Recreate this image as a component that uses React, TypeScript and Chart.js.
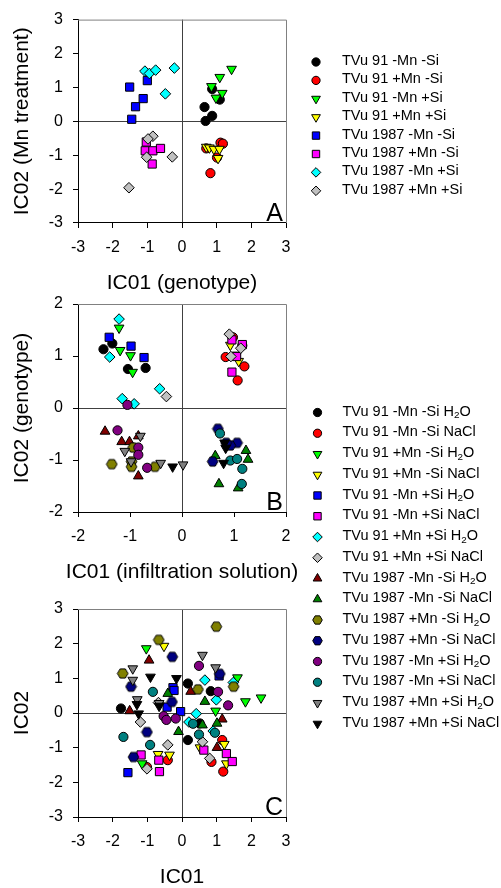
import React, { useEffect, useRef } from 'react';
import { Chart, registerables } from 'chart.js';
Chart.register(...registerables);

const FONT = "'Liberation Sans', Arial, Helvetica, sans-serif";

// ---------- Panel A data (IC01 genotype vs IC02 Mn treatment) ----------
const seriesNamesA = [
  'TVu 91 -Mn -Si', 'TVu 91 +Mn -Si', 'TVu 91 -Mn +Si', 'TVu 91 +Mn +Si',
  'TVu 1987 -Mn -Si', 'TVu 1987 +Mn -Si', 'TVu 1987 -Mn +Si', 'TVu 1987 +Mn +Si',
];
const a91MnMinusSiMinus = [[0.87, 0.95], [1.09, 0.64], [0.65, 0.42], [0.87, 0.16], [0.68, 0.01]];
const a91MnPlusSiMinus = [[1.11, -0.63], [1.18, -0.66], [0.70, -0.80], [1.01, -1.07], [0.82, -1.53]];
const a91MnMinusSiPlus = [[1.43, 1.54], [1.09, 1.30], [0.85, 1.03], [1.16, 0.83], [0.98, 0.69]];
const a91MnPlusSiPlus = [[0.70, -0.76], [0.79, -0.78], [0.92, -0.82], [1.08, -0.82], [1.04, -1.09]];
const a1987MnMinusSiMinus = [[-1.51, 1.01], [-1.00, 1.20], [-1.12, 0.67], [-1.34, 0.43], [-1.45, 0.06]];
const a1987MnPlusSiMinus = [[-1.03, -0.61], [-1.06, -0.87], [-0.84, -0.87], [-0.62, -0.80], [-0.86, -1.26]];
const a1987MnMinusSiPlus = [[-1.07, 1.48], [-0.94, 1.41], [-0.76, 1.51], [-0.22, 1.57], [-0.48, 0.81]];
const a1987MnPlusSiPlus = [[-0.84, -0.44], [-0.98, -0.52], [-1.02, -1.06], [-0.28, -1.05], [-1.53, -1.96]];
const seriesDataA = [
  a91MnMinusSiMinus, a91MnPlusSiMinus, a91MnMinusSiPlus, a91MnPlusSiPlus,
  a1987MnMinusSiMinus, a1987MnPlusSiMinus, a1987MnMinusSiPlus, a1987MnPlusSiPlus,
];

// ---------- Panel B / C series names ----------
const seriesNamesBC = [
  'TVu 91 -Mn -Si H₂O', 'TVu 91 -Mn -Si NaCl', 'TVu 91 +Mn -Si H₂O', 'TVu 91 +Mn -Si NaCl',
  'TVu 91 -Mn +Si H₂O', 'TVu 91 -Mn +Si NaCl', 'TVu 91 +Mn +Si H₂O', 'TVu 91 +Mn +Si NaCl',
  'TVu 1987 -Mn -Si H₂O', 'TVu 1987 -Mn -Si NaCl', 'TVu 1987 +Mn -Si H₂O', 'TVu 1987 +Mn -Si NaCl',
  'TVu 1987 -Mn +Si H₂O', 'TVu 1987 -Mn +Si NaCl', 'TVu 1987 +Mn +Si H₂O', 'TVu 1987 +Mn +Si NaCl',
];

// ---------- Panel B data (IC01 infiltration solution vs IC02 genotype) ----------
const b91_1 = [[-1.51, 1.13], [-1.34, 1.24], [-1.04, 0.75], [-0.70, 0.77]];
const b91_2 = [[0.98, 1.36], [0.84, 0.98], [1.20, 0.80], [1.07, 0.53], [1.16, 1.20]];
const b91_3 = [[-1.21, 1.54], [-1.19, 1.11], [-0.99, 1.01], [-0.95, 0.69]];
const b91_4 = [[0.93, 1.21], [1.09, 0.90], [1.05, 1.02]];
const b91_5 = [[-1.40, 1.36], [-0.98, 1.19], [-0.73, 0.97]];
const b91_6 = [[0.96, 1.31], [1.16, 1.22], [1.05, 0.99], [0.96, 0.69]];
const b91_7 = [[-1.21, 1.71], [-1.39, 0.98], [-0.43, 0.37], [-1.15, 0.18], [-0.92, 0.08]];
const b91_8 = [[0.91, 1.42], [1.13, 1.15], [0.94, 0.99], [-0.30, 0.22]];
const b1987_1 = [[-1.48, -0.45], [-1.16, -0.65], [-1.01, -0.65], [-0.84, -0.54], [-0.84, -1.31]];
const b1987_2 = [[1.23, -0.82], [1.27, -0.99], [0.71, -1.46], [1.08, -1.54], [0.64, -0.92]];
const b1987_3 = [[-0.94, -0.76], [-1.35, -1.08], [-0.97, -1.03], [-0.97, -1.13], [-0.52, -1.13]];
const b1987_4 = [[0.69, -0.40], [1.06, -0.67], [0.59, -1.03], [0.93, -0.72], [0.85, -0.67]];
const b1987_5 = [[-1.24, -0.43], [-0.84, -0.76], [-0.84, -0.90], [-0.67, -1.15], [-1.05, 0.06]];
const b1987_6 = [[0.73, -0.49], [0.93, -1.01], [1.06, -0.98], [1.16, -1.17], [1.15, -1.46]];
const b1987_7 = [[-0.80, -0.54], [-1.10, -0.83], [-0.98, -1.03], [-0.41, -1.06], [0.02, -1.09]];
const b1987_8 = [[-0.18, -1.13], [0.82, -0.67], [0.84, -0.77], [0.80, -1.06]];
const seriesDataB = [b91_1, b91_2, b91_3, b91_4, b91_5, b91_6, b91_7, b91_8,
  b1987_1, b1987_2, b1987_3, b1987_4, b1987_5, b1987_6, b1987_7, b1987_8];

// ---------- Panel C data (IC01 vs IC02) ----------
const c91_1 = [[-1.76, 0.13], [0.17, 0.85], [0.83, 0.63], [0.51, -0.30], [0.17, -0.78]];
const c91_2 = [[1.16, -0.78], [0.85, -1.41], [1.19, -1.69], [-0.41, -1.36], [-1.01, -1.56]];
const c91_3 = [[-1.03, 1.86], [1.60, 1.02], [2.28, 0.44], [1.83, 0.33], [0.97, 0.06], [-1.15, -1.46]];
const c91_4 = [[-0.52, 1.93], [1.22, -0.90], [1.28, -1.46], [-0.69, -1.19], [-0.36, -1.21], [0.52, -1.00]];
const c91_5 = [[-1.56, -1.72], [-0.26, 0.73], [-0.23, 0.65], [-0.43, 0.17], [-0.04, 0.04], [1.07, 1.07]];
const c91_6 = [[-1.18, -1.21], [-0.67, -1.36], [-0.65, -1.69], [0.63, -1.07], [1.28, -1.17], [1.45, -1.40]];
const c91_7 = [[0.66, 0.95], [0.99, 0.38], [0.41, -0.02], [0.20, -0.26], [1.48, 0.88], [0.90, -0.52]];
const c91_8 = [[-1.20, -0.26], [-0.68, 0.30], [-0.41, -0.92], [0.59, -0.83], [0.80, -1.31], [-1.01, -1.61]];
const c1987_1 = [[-0.95, 1.52], [-1.51, 0.06], [0.25, 0.62], [1.16, -0.18], [1.01, -1.00]];
const c1987_2 = [[-0.41, 0.56], [0.66, 0.33], [0.59, -0.35], [1.01, -0.30], [-0.10, -0.54]];
const c1987_3 = [[0.99, 2.49], [-0.67, 2.11], [-1.71, 1.14], [0.46, 0.68], [1.49, 0.76]];
const c1987_4 = [[-0.28, 1.62], [-1.47, 0.76], [1.09, 1.13], [-0.29, 0.32], [-1.01, -0.55], [-1.40, -1.27]];
const c1987_5 = [[0.49, 1.36], [1.04, 0.61], [1.33, 0.22], [-0.53, -0.09], [-0.45, -0.20], [-0.18, -0.16]];
const c1987_6 = [[-0.84, 0.61], [-1.69, -0.69], [-0.92, -0.92], [0.32, -0.31], [0.49, -0.62], [0.95, -0.57]];
const c1987_7 = [[0.59, 1.67], [0.97, 1.31], [-1.42, 1.28], [-1.42, 0.95], [-1.29, 0.39], [-0.66, 0.28]];
const c1987_8 = [[-0.91, 1.04], [-0.16, 1.00], [-1.30, 0.25], [-1.25, -0.02], [-0.66, 0.20]];
const seriesDataC = [c91_1, c91_2, c91_3, c91_4, c91_5, c91_6, c91_7, c91_8,
  c1987_1, c1987_2, c1987_3, c1987_4, c1987_5, c1987_6, c1987_7, c1987_8];

// ---------- Symbols ----------
const symbolsA = [
  ['circle', '#000000'], ['circle', '#ff0000'], ['triDown', '#00ff00'], ['triDown', '#ffff00'],
  ['square', '#0000ff'], ['square', '#ff00ff'], ['diamond', '#00ffff'], ['diamond', '#c0c0c0'],
];
const symbolsBC = [
  ['circle', '#000000'], ['circle', '#ff0000'], ['triDown', '#00ff00'], ['triDown', '#ffff00'],
  ['square', '#0000ff'], ['square', '#ff00ff'], ['diamond', '#00ffff'], ['diamond', '#c0c0c0'],
  ['triUp', '#800000'], ['triUp', '#008000'], ['hex', '#808000'], ['hex', '#000080'],
  ['circle', '#800080'], ['circle', '#008080'], ['triDown', '#808080'], ['triDown', '#000000'],
];
const xTicks3 = [-3, -2, -1, 0, 1, 2, 3];
const xTicks2 = [-2, -1, 0, 1, 2];

const RADII: Record<string, number> = { circle: 4.6, square: 5.8, diamond: 5.3, triUp: 5.6, triDown: 5.6, hex: 5.3 };

function drawShape(ctx: CanvasRenderingContext2D, shape: string, x: number, y: number, r: number, fill: string) {
  ctx.save();
  ctx.beginPath();
  if (shape === 'circle') {
    ctx.arc(x, y, r, 0, Math.PI * 2);
  } else if (shape === 'square') {
    const h = r * Math.SQRT1_2;
    ctx.rect(x - h, y - h, 2 * h, 2 * h);
  } else if (shape === 'diamond') {
    ctx.moveTo(x, y - r); ctx.lineTo(x + r, y); ctx.lineTo(x, y + r); ctx.lineTo(x - r, y); ctx.closePath();
  } else if (shape === 'triUp' || shape === 'triDown') {
    let rad = shape === 'triUp' ? 0 : Math.PI;
    for (let i = 0; i < 3; i++) {
      const px = x + Math.sin(rad) * r, py = y - Math.cos(rad) * r;
      if (i === 0) ctx.moveTo(px, py); else ctx.lineTo(px, py);
      rad += (2 * Math.PI) / 3;
    }
    ctx.closePath();
  } else if (shape === 'hex') {
    for (let i = 0; i < 6; i++) {
      const a = (i * Math.PI) / 3;
      const px = x + Math.cos(a) * r, py = y + Math.sin(a) * r;
      if (i === 0) ctx.moveTo(px, py); else ctx.lineTo(px, py);
    }
    ctx.closePath();
  }
  ctx.fillStyle = fill;
  ctx.fill();
  ctx.lineWidth = 1;
  ctx.strokeStyle = '#000';
  ctx.stroke();
  ctx.restore();
}

function hexImage(fill: string) {
  const c = document.createElement('canvas');
  c.width = 13; c.height = 13;
  const ctx = c.getContext('2d')!;
  drawShape(ctx, 'hex', 6.5, 6.5, RADII.hex, fill);
  return c;
}

function buildDatasets(names: string[], data: number[][][], symbols: string[][]) {
  const n = names.length;
  return names.map((label, i) => {
    const [shape, color] = symbols[i];
    let pointStyle: any = 'circle';
    let rotation = 0;
    if (shape === 'square') pointStyle = 'rect';
    else if (shape === 'diamond') pointStyle = 'rectRot';
    else if (shape === 'triUp') pointStyle = 'triangle';
    else if (shape === 'triDown') { pointStyle = 'triangle'; rotation = 180; }
    else if (shape === 'hex') pointStyle = hexImage(color);
    return {
      label,
      data: data[i].map(([x, y]) => ({ x, y })),
      pointStyle,
      pointRotation: rotation,
      pointRadius: RADII[shape],
      pointBackgroundColor: color,
      pointBorderColor: '#000',
      pointBorderWidth: 1,
      showLine: false,
      order: n - i,
    };
  });
}

function drawLabel(ctx: CanvasRenderingContext2D, text: string, x: number, y: number, size: number) {
  ctx.font = `${size}px ${FONT}`;
  ctx.fillStyle = '#000';
  ctx.textAlign = 'left';
  ctx.textBaseline = 'middle';
  const idx = text.indexOf('₂');
  if (idx < 0) { ctx.fillText(text, x, y); return; }
  const before = text.slice(0, idx), after = text.slice(idx + 1);
  ctx.fillText(before, x, y);
  let cx = x + ctx.measureText(before).width;
  ctx.font = `${size * 0.68}px ${FONT}`;
  ctx.fillText('2', cx, y + 4);
  cx += ctx.measureText('2').width;
  ctx.font = `${size}px ${FONT}`;
  ctx.fillText(after, cx, y);
}

type OverlayOpts = {
  letter: string;
  names: string[];
  symbols: string[][];
  markerX: number;
  textX: number;
  y0: number;
  dy: number;
  extraXTitle?: string;
  extraXTitleY?: number;
};

function overlayPlugin(o: OverlayOpts) {
  return {
    id: 'overlay' + o.letter,
    beforeDatasetsDraw(chart: any) {
      const { ctx, chartArea: a } = chart;
      ctx.save();
      ctx.strokeStyle = '#808080';
      ctx.lineWidth = 1;
      ctx.beginPath();
      ctx.moveTo(a.left, a.top + 0.5);
      ctx.lineTo(a.right + 0.5, a.top + 0.5);
      ctx.lineTo(a.right + 0.5, a.bottom);
      ctx.stroke();
      ctx.restore();
    },
    afterDraw(chart: any) {
      const { ctx, chartArea: a } = chart;
      ctx.save();
      ctx.font = `25px ${FONT}`;
      ctx.fillStyle = '#000';
      ctx.textAlign = 'right';
      ctx.textBaseline = 'alphabetic';
      ctx.fillText(o.letter, a.right - 3, a.bottom - 2);
      o.names.forEach((name, i) => {
        const y = o.y0 + i * o.dy;
        const [shape, color] = o.symbols[i];
        drawShape(ctx, shape, o.markerX, y, RADII[shape] * 0.9, color);
        drawLabel(ctx, name, o.textX, y - 1, 14.5);
      });
      if (o.extraXTitle) {
        ctx.font = `21px ${FONT}`;
        ctx.textAlign = 'center';
        ctx.textBaseline = 'middle';
        ctx.fillText(o.extraXTitle, (a.left + a.right) / 2, o.extraXTitleY);
      }
      ctx.restore();
    },
  };
}

type PanelCfg = {
  top: number; bottom: number; range: number; ticks: number[];
  xTitle: string | null; yTitle: string; xTitleY: number;
};

const LEFT = 78, RIGHT = 286, XH = 71;

function makeConfig(p: PanelCfg, datasets: any[], plugin: any) {
  const tickFont = { family: FONT, size: 16 };
  const titleFont = { family: FONT, size: 21, lineHeight: 1 };
  const gridColor = (ctx: any) => (ctx.tick && ctx.tick.value === 0 ? '#404040' : 'rgba(0,0,0,0)');
  const scaleBottom = p.bottom + XH;
  return {
    type: 'scatter',
    data: { datasets },
    options: {
      responsive: false,
      animation: false,
      events: [],
      layout: { padding: { left: 0, right: 501 - RIGHT, top: p.top, bottom: 888 - p.bottom - XH } },
      plugins: { legend: { display: false }, tooltip: { enabled: false } },
      scales: {
        x: {
          type: 'linear', position: 'bottom', min: -p.range, max: p.range,
          afterBuildTicks: (s: any) => { s.ticks = p.ticks.map((v) => ({ value: v })); },
          afterFit: (s: any) => { s.height = XH; },
          ticks: { color: '#000', font: tickFont, padding: 10, maxRotation: 0, autoSkip: false },
          grid: { color: gridColor, tickColor: '#000', tickLength: 5, lineWidth: 1 },
          border: { color: '#000', width: 1 },
          title: {
            display: !!p.xTitle, text: p.xTitle || '', color: '#000', font: titleFont,
            padding: { top: 0, bottom: scaleBottom - p.xTitleY - 10.5 },
          },
        },
        y: {
          type: 'linear', position: 'left', min: -p.range, max: p.range,
          afterBuildTicks: (s: any) => { s.ticks = p.ticks.map((v) => ({ value: v })); },
          afterFit: (s: any) => { s.width = LEFT; },
          ticks: { color: '#000', font: tickFont, padding: 10, autoSkip: false },
          grid: { color: gridColor, tickColor: '#000', tickLength: 5, lineWidth: 1 },
          border: { color: '#000', width: 1 },
          title: { display: true, text: p.yTitle, color: '#000', font: titleFont, padding: { top: 12, bottom: 0 } },
        },
      },
    },
    plugins: [plugin],
  };
}

export default function App() {
  const refA = useRef<HTMLCanvasElement>(null);
  const refB = useRef<HTMLCanvasElement>(null);
  const refC = useRef<HTMLCanvasElement>(null);

  useEffect(() => {
    Chart.defaults.font.family = FONT;
    const charts: Chart[] = [];
    charts.push(new Chart(refA.current!, makeConfig(
      { top: 15, bottom: 223, range: 3, ticks: xTicks3, xTitle: 'IC01 (genotype)', yTitle: 'IC02 (Mn treatment)', xTitleY: 283 },
      buildDatasets(seriesNamesA, seriesDataA, symbolsA),
      overlayPlugin({ letter: 'A', names: seriesNamesA, symbols: symbolsA, markerX: 316, textX: 342, y0: 62, dy: 18.4 }),
    ) as any));
    charts.push(new Chart(refB.current!, makeConfig(
      { top: 304, bottom: 512, range: 2, ticks: xTicks2, xTitle: null, yTitle: 'IC02 (genotype)', xTitleY: 572 },
      buildDatasets(seriesNamesBC, seriesDataB, symbolsBC),
      overlayPlugin({
        letter: 'B', names: seriesNamesBC, symbols: symbolsBC, markerX: 317.5, textX: 342.5, y0: 412.5, dy: 20.75,
        extraXTitle: 'IC01 (infiltration solution)', extraXTitleY: 572,
      }),
    ) as any));
    charts.push(new Chart(refC.current!, makeConfig(
      { top: 609, bottom: 817, range: 3, ticks: xTicks3, xTitle: 'IC01', yTitle: 'IC02', xTitleY: 877 },
      buildDatasets(seriesNamesBC, seriesDataC, symbolsBC),
      overlayPlugin({ letter: 'C', names: [], symbols: [], markerX: 0, textX: 0, y0: 0, dy: 0 }),
    ) as any));
    return () => { charts.forEach((c) => c.destroy()); };
  }, []);

  const cs: React.CSSProperties = { position: 'absolute', left: 0, top: 0, width: 501, height: 888 };
  return (
    <div style={{ position: 'absolute', left: 0, top: 0, width: 501, height: 888, background: '#fff' }}>
      <canvas ref={refA} width={501} height={888} style={cs} />
      <canvas ref={refB} width={501} height={888} style={cs} />
      <canvas ref={refC} width={501} height={888} style={cs} />
    </div>
  );
}
